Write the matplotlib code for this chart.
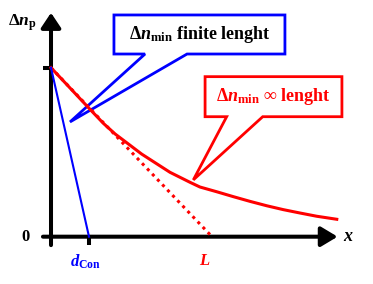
import numpy as np
import matplotlib
matplotlib.use("Agg")
import matplotlib.pyplot as plt
from matplotlib.patches import Polygon

plt.rcParams['mathtext.fontset'] = 'custom'
plt.rcParams['mathtext.rm'] = 'Liberation Serif:bold'
plt.rcParams['mathtext.it'] = 'Liberation Serif:italic:bold'
plt.rcParams['mathtext.bf'] = 'Liberation Serif:bold'
plt.rcParams['font.family'] = ['Liberation Serif', 'DejaVu Serif']

# data (x in units of L, y in units of dn at x=0)
x_inf = [0, 0.242, 0.325, 0.398, 0.480, 0.563, 0.646, 0.739, 0.863, 0.925, 1.029,
         1.132, 1.236, 1.340, 1.443, 1.547, 1.650, 1.775]
y_inf = [1.0, 0.754, 0.671, 0.608, 0.549, 0.489, 0.438, 0.381, 0.322, 0.294, 0.266,
         0.237, 0.209, 0.183, 0.160, 0.140, 0.121, 0.103]
dn0 = 1.0
L = 1.0
d_con = 0.236

fig = plt.figure(figsize=(3.73, 2.84), dpi=100)
ax = fig.add_axes([0, 0, 1, 1])
ax.set_xlim(-0.3168, 2.0)
ax.set_ylim(-0.280, 1.4006)
ax.axis('off')

blk = 'black'
alw = 2.9
# axes with arrows
ax.annotate('', xy=(0, 1.325), xytext=(0, -0.05),
            arrowprops=dict(arrowstyle='-|>,head_length=0.45,head_width=0.3', lw=alw,
                            color=blk, mutation_scale=20, shrinkA=0, shrinkB=0))
ax.annotate('', xy=(1.78, 0), xytext=(-0.05, 0),
            arrowprops=dict(arrowstyle='-|>,head_length=0.5,head_width=0.3', lw=alw,
                            color=blk, mutation_scale=20, shrinkA=0, shrinkB=0))
ax.plot([-0.05, 0], [dn0, dn0], color=blk, lw=alw, solid_capstyle='butt')
ax.plot([d_con, d_con], [0, -0.05], color=blk, lw=alw, solid_capstyle='butt')

# curves
ax.plot(x_inf, y_inf, color='red', lw=2.2, zorder=4)
ax.plot([0, L], [dn0, 0], color='red', lw=2.2, ls=(0, (1, 1.4)), zorder=4)
ax.plot([0, d_con], [dn0, 0], color='blue', lw=1.5, zorder=4)

# callouts
blue_c = [(0.391, 1.312), (1.453, 1.312), (1.453, 1.081), (0.845, 1.081),
          (0.118, 0.679), (0.584, 1.081), (0.391, 1.081)]
ax.add_patch(Polygon(blue_c, closed=True, fc='white', ec='blue', lw=2, zorder=2))
ax.text(0.922, 1.196, r'$\Delta n_{\rm min}$ finite lenght', ha='center', va='center',
        fontsize=13, fontweight='bold', color='black', zorder=5)

red_c = [(0.957, 0.947), (1.807, 0.947), (1.807, 0.710), (1.315, 0.710),
         (0.884, 0.336), (1.091, 0.710), (0.957, 0.710)]
ax.add_patch(Polygon(red_c, closed=True, fc='white', ec='red', lw=2, zorder=2))
ax.text(1.382, 0.83, '$\\Delta n_{\\rm min}$ \u221e lenght', ha='center', va='center',
        fontsize=13, fontweight='bold', color='red', zorder=5)

# labels
ax.text(-0.175, 1.264, r'$\Delta n_{\rm p}$', ha='center', va='center', fontsize=12.5, color=blk)
ax.text(-0.16, 0, '0', ha='center', va='center', fontsize=12, fontweight='bold', color=blk)
ax.text(1.845, 0, r'$x$', ha='center', va='center', fontsize=13, color=blk)
ax.text(d_con - 0.02, -0.15, r'$d_{\rm Con}$', ha='center', va='center', fontsize=12, color='blue')
ax.text(L - 0.043, -0.145, r'$L$', ha='center', va='center', fontsize=12, color='red')

fig.savefig('out.png', dpi=100)
